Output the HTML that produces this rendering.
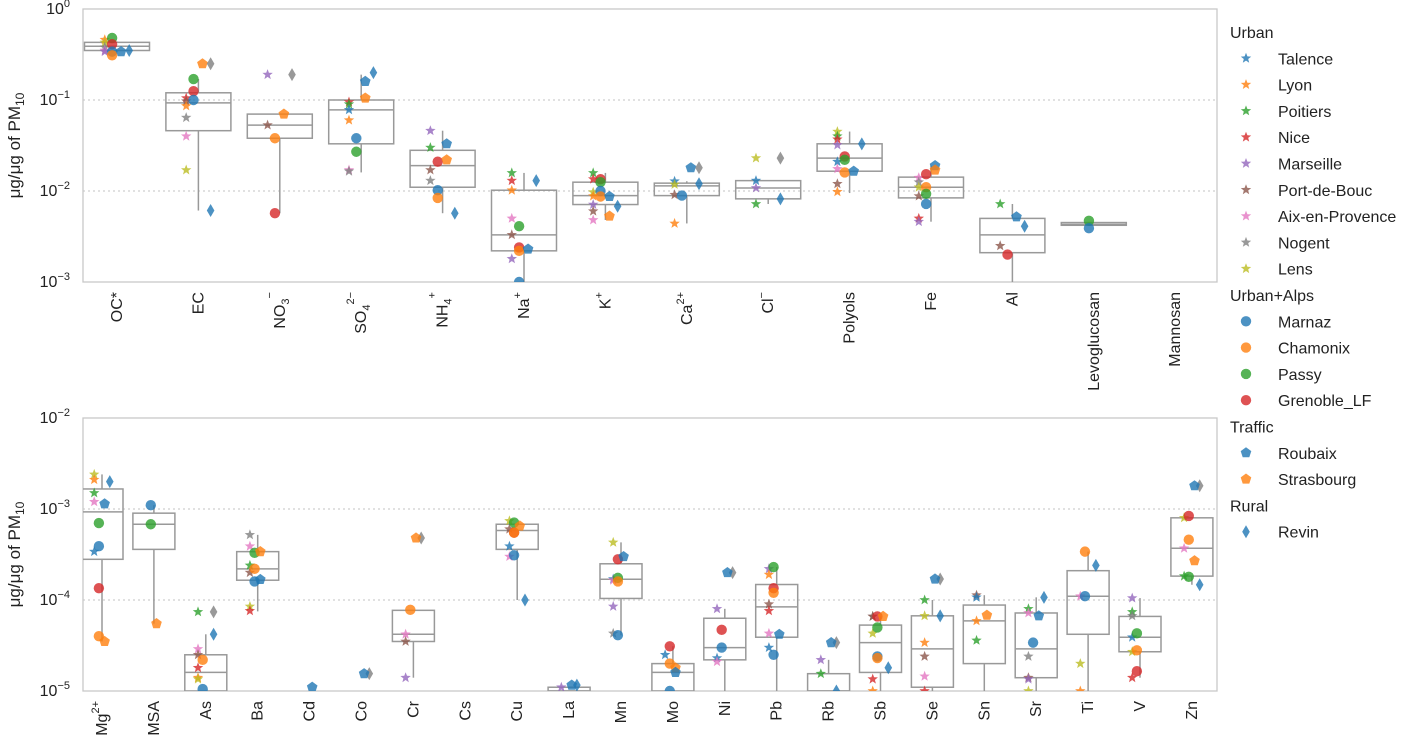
<!DOCTYPE html>
<html><head><meta charset="utf-8"><style>
html,body{margin:0;padding:0;background:#fff;}
svg{display:block;font-family:"Liberation Sans","DejaVu Sans",sans-serif;}
</style></head><body>
<svg id="chart" width="1412" height="743" xmlns="http://www.w3.org/2000/svg"></svg>
<script>
// ---------- DATA ----------
const sites = ["Talence","Lyon","Poitiers","Nice","Marseille","Port-de-Bouc","Aix-en-Provence","Nogent","Lens","Marnaz","Chamonix","Passy","Grenoble_LF","Roubaix","Strasbourg","Revin","Other"];
const siteColors = ["#1f77b4","#ff7f0e","#2ca02c","#d62728","#9467bd","#8c564b","#e377c2","#7f7f7f","#bcbd22","#1f77b4","#ff7f0e","#2ca02c","#d62728","#1f77b4","#ff7f0e","#1f77b4","#7f7f7f"];
const siteMarkers = ["star","star","star","star","star","star","star","star","star","circle","circle","circle","circle","pent","pent","diamond","diamond"];
const legendGroups = [["Urban",[0,1,2,3,4,5,6,7,8]],["Urban+Alps",[9,10,11,12]],["Traffic",[13,14]],["Rural",[15]]];

const topCategories = ["OC*","EC","NO3-","SO42-","NH4+","Na+","K+","Ca2+","Cl-","Polyols","Fe","Al","Levoglucosan","Mannosan"];
const topBoxes = [
 [0.34,0.35,0.39,0.43,0.44],[0.0061,0.046,0.093,0.12,0.17],[0.0057,0.038,0.053,0.07,0.07],[0.016,0.033,0.078,0.1,0.19],
 [0.0057,0.011,0.019,0.028,0.046],[0.001,0.0022,0.0033,0.0102,0.0158],[0.0048,0.0071,0.0089,0.0125,0.0158],[0.0044,0.0089,0.0114,0.0122,0.0128],
 [0.0072,0.0082,0.0108,0.013,0.013],[0.0095,0.0165,0.023,0.033,0.045],[0.0046,0.0084,0.011,0.0142,0.019],[0.001,0.0021,0.0033,0.005,0.0072],
 [0.0042,0.0042,0.0043,0.0045,0.0045],null];
const topPoints = [
 [[1,0.46],[8,0.43],[7,0.38],[6,0.35],[4,0.34],[11,0.48],[12,0.41],[9,0.34],[10,0.31],[13,0.34],[15,0.35]],
 [[3,0.105],[5,0.097],[1,0.086],[7,0.064],[6,0.04],[8,0.017],[11,0.17],[12,0.125],[9,0.1],[14,0.25],[16,0.25],[15,0.0061]],
 [[4,0.19],[16,0.19],[5,0.053],[14,0.07],[10,0.038],[12,0.0057]],
 [[3,0.095],[2,0.09],[0,0.078],[1,0.06],[6,0.017],[7,0.0165],[9,0.038],[11,0.027],[13,0.16],[14,0.105],[15,0.2]],
 [[4,0.046],[2,0.03],[5,0.017],[7,0.013],[12,0.021],[9,0.0102],[10,0.0084],[13,0.033],[14,0.022],[15,0.0057]],
 [[2,0.0158],[3,0.013],[1,0.0102],[6,0.005],[5,0.0033],[4,0.0018],[11,0.0041],[12,0.0024],[10,0.0022],[13,0.0023],[9,0.001],[15,0.013]],
 [[2,0.0158],[3,0.0135],[8,0.0097],[1,0.0088],[4,0.0071],[5,0.006],[6,0.0048],[12,0.0135],[11,0.0125],[9,0.01],[10,0.0087],[13,0.0087],[14,0.0053],[15,0.0068]],
 [[0,0.0128],[8,0.0118],[5,0.0091],[1,0.0044],[9,0.0089],[13,0.018],[16,0.018],[15,0.012]],
 [[8,0.023],[16,0.023],[0,0.013],[4,0.0108],[2,0.0072],[15,0.0082]],
 [[8,0.045],[2,0.04],[3,0.037],[4,0.032],[0,0.021],[6,0.0175],[5,0.012],[1,0.0098],[12,0.024],[11,0.022],[10,0.016],[13,0.0165],[15,0.033]],
 [[6,0.014],[7,0.0125],[8,0.011],[5,0.0088],[3,0.005],[4,0.0046],[12,0.0153],[10,0.011],[11,0.0093],[9,0.0072],[13,0.019],[14,0.017]],
 [[2,0.0072],[5,0.0025],[12,0.002],[13,0.0052],[15,0.0041]],
 [[11,0.0047],[9,0.0039]],
 []];

const botCategories = ["Mg2+","MSA","As","Ba","Cd","Co","Cr","Cs","Cu","La","Mn","Mo","Ni","Pb","Rb","Sb","Se","Sn","Sr","Ti","V","Zn"];
const botBoxes = [
 [3.5e-5,0.00028,0.00093,0.00166,0.0024],[5.5e-5,0.00036,0.00068,0.0009,0.0011],[1e-5,1e-5,1.6e-5,2.5e-5,4.2e-5],[7.5e-5,0.000165,0.00022,0.00034,0.00052],
 null,null,[1.4e-5,3.5e-5,4.2e-5,7.7e-5,7.7e-5],null,[0.0001,0.00036,0.00058,0.00068,0.00068],[1e-5,1e-5,1e-5,1.1e-5,1.1e-5],
 [4.1e-5,0.000104,0.000169,0.00025,0.00043],[1e-5,1e-5,1.6e-5,2e-5,3.1e-5],[1e-5,2.2e-5,3e-5,6.3e-5,8e-5],[1e-5,3.9e-5,8.4e-5,0.000148,0.00023],
 [1e-5,1e-5,1e-5,1.55e-5,2.2e-5],[1e-5,1.6e-5,3.4e-5,5.3e-5,6.6e-5],[1e-5,1.1e-5,2.9e-5,6.7e-5,0.0001],[1e-5,2e-5,5.9e-5,8.8e-5,0.000113],
 [1e-5,1.4e-5,2.9e-5,7.2e-5,0.000107],[1e-5,4.2e-5,0.00011,0.00021,0.00034],[1.4e-5,2.7e-5,3.9e-5,6.6e-5,0.000105],[0.000147,0.000183,0.00037,0.0008,0.0008]];
const botPoints = [
 [[8,0.0024],[1,0.0021],[2,0.0015],[6,0.0012],[0,0.00034],[11,0.0007],[9,0.00039],[12,0.000135],[10,0.00004],[13,0.00114],[14,0.000035],[15,0.002]],
 [[9,0.0011],[11,0.00068],[14,0.000055]],
 [[2,7.4e-5],[16,7.4e-5],[6,2.9e-5],[5,2.5e-5],[3,1.8e-5],[1,1.4e-5],[8,1.35e-5],[10,2.2e-5],[9,1.05e-5],[15,4.2e-5]],
 [[7,0.00052],[6,0.00039],[2,0.00024],[5,0.0002],[8,8.5e-5],[3,7.6e-5],[11,0.00033],[10,0.00022],[9,0.00016],[14,0.00034],[13,0.000168]],
 [[13,1.1e-5]],
 [[16,1.55e-5],[13,1.55e-5]],
 [[6,4.2e-5],[5,3.5e-5],[4,1.4e-5],[10,7.8e-5],[16,0.00048],[14,0.00048]],
 [],
 [[8,0.00074],[5,0.0006],[0,0.00039],[6,0.0003],[11,0.00071],[12,0.00055],[10,0.00055],[9,0.00031],[14,0.00065],[15,0.0001]],
 [[4,1.1e-5],[13,1.16e-5],[15,1.16e-5]],
 [[8,0.00043],[0,0.00017],[6,0.000165],[4,8.5e-5],[7,4.3e-5],[12,0.00028],[11,0.000175],[10,0.00016],[9,4.1e-5],[13,0.0003]],
 [[0,2.5e-5],[12,3.1e-5],[10,2e-5],[9,1e-5],[14,1.8e-5],[13,1.6e-5]],
 [[4,8e-5],[0,2.3e-5],[6,2.1e-5],[12,4.7e-5],[9,3e-5],[16,0.0002],[13,0.0002]],
 [[4,0.00022],[1,0.00019],[5,9e-5],[3,7.6e-5],[6,4.3e-5],[0,3e-5],[11,0.00023],[12,0.000135],[10,0.00012],[9,2.5e-5],[13,4.2e-5]],
 [[4,2.2e-5],[2,1.55e-5],[16,3.4e-5],[13,3.4e-5],[15,1e-5]],
 [[7,6.6e-5],[5,6.6e-5],[8,4.3e-5],[3,1.35e-5],[1,1e-5],[12,6.6e-5],[11,5e-5],[9,2.4e-5],[10,2.3e-5],[14,6.6e-5],[15,1.8e-5]],
 [[2,0.0001],[8,6.7e-5],[1,3.4e-5],[5,2.4e-5],[6,1.45e-5],[3,1e-5],[16,0.00017],[13,0.00017],[15,6.7e-5]],
 [[5,0.000113],[0,0.000107],[1,5.9e-5],[2,3.6e-5],[14,6.8e-5]],
 [[2,8e-5],[6,7.2e-5],[7,2.4e-5],[5,1.4e-5],[4,1.35e-5],[8,1e-5],[9,3.4e-5],[13,6.7e-5],[15,0.000107]],
 [[6,0.00011],[8,2e-5],[1,1e-5],[10,0.00034],[9,0.00011],[15,0.00024]],
 [[4,0.000105],[2,7.4e-5],[7,6.7e-5],[0,3.9e-5],[8,2.7e-5],[3,1.4e-5],[11,4.3e-5],[10,2.8e-5],[12,1.65e-5]],
 [[8,0.0008],[6,0.00037],[2,0.000183],[12,0.00084],[10,0.00046],[11,0.00018],[14,0.00027],[16,0.0018],[13,0.0018],[15,0.000147]]];

// ---------- RENDER ----------
const NS="http://www.w3.org/2000/svg";
const svg=document.getElementById('chart');
function el(tag,attrs,parent){const e=document.createElementNS(NS,tag);for(const k in attrs)e.setAttribute(k,attrs[k]);(parent||svg).appendChild(e);return e;}

const panels=[
 {name:'top',cats:topCategories,boxes:topBoxes,pts:topPoints,top:9,bot:282,dmax:0,dmin:-3,x0:117,step:81.4,boxW:65,tickExp:[0,-1,-2,-3]},
 {name:'bottom',cats:botCategories,boxes:botBoxes,pts:botPoints,top:418,bot:691,dmax:-2,dmin:-5,x0:102,step:51.9,boxW:42,tickExp:[-2,-3,-4,-5]}
];
const L=83,R=1217;
const offs={star:-0.15,circle:-0.06,pent:0.05,diamond:0.15};

function labelSpans(t,cat){
  const map={"NO3-":["NO","3","−"],"SO42-":["SO","4","2−"],"NH4+":["NH","4","+"],"Na+":["Na","","+"],"K+":["K","","+"],"Ca2+":["Ca","","2+"],"Cl-":["Cl","","−"],"Mg2+":["Mg","","2+"]};
  const m=map[cat];
  if(!m){t.textContent=cat;return;}
  el('tspan',{},t).textContent=m[0];
  if(m[1]){const s=el('tspan',{'baseline-shift':'-4','font-size':'11'},t);s.textContent=m[1];}
  const p=el('tspan',{'baseline-shift':m[1]?'12':'8','font-size':'11'},t);p.textContent=m[2];
}

function marker(g,type,x,y,color){
  let m;
  if(type==='circle') m=el('circle',{cx:x,cy:y,r:5.2},g);
  else if(type==='star'){let p=[];for(let i=0;i<10;i++){const r=i%2?2.3:5.5;const a=-Math.PI/2+i*Math.PI/5;p.push((x+r*Math.cos(a)).toFixed(1)+','+(y+r*Math.sin(a)).toFixed(1));}m=el('polygon',{points:p.join(' ')},g);}
  else if(type==='pent'){let p=[];for(let i=0;i<5;i++){const a=-Math.PI/2+i*2*Math.PI/5;p.push((x+5.6*Math.cos(a)).toFixed(1)+','+(y+5.6*Math.sin(a)).toFixed(1));}m=el('polygon',{points:p.join(' ')},g);}
  else m=el('polygon',{points:`${x},${y-6.5} ${x+3.8},${y} ${x},${y+6.5} ${x-3.8},${y}`},g);
  m.setAttribute('fill',color);m.setAttribute('fill-opacity','0.8');
  return m;
}

panels.forEach(P=>{
  const ys=v=>{const lv=Math.log10(v);return P.top+(P.dmax-lv)/(P.dmax-P.dmin)*(P.bot-P.top);};
  const xs=i=>P.x0+i*P.step;
  const g=el('g',{});
  
  const clip=el('clipPath',{id:'clip-'+P.name},g);el('rect',{x:L,y:P.top,width:R-L,height:P.bot-P.top},clip);
  // grid
  P.tickExp.forEach(e=>{
    const y=ys(Math.pow(10,e));
    if(y>P.top+1&&y<P.bot-1){const gl=el('line',{x1:L,x2:R,y1:y,y2:y,stroke:'#cfcfcf','stroke-width':1.3,'stroke-dasharray':'2,3'},g);}
    const t=el('text',{x:70,y:y+5,'text-anchor':'end','font-size':'16',fill:'#222'},g);
    
    el('tspan',{},t).textContent='10';
    const s=el('tspan',{'baseline-shift':'7','font-size':'11'},t);s.textContent='−'+(-e)+'';
    if(e===0)s.textContent='0';
  });
  // frame
  const fr=el('rect',{x:L,y:P.top,width:R-L,height:P.bot-P.top,fill:'none',stroke:'#c8c8c8','stroke-width':1.3},g);
  
  // y title
  const yt=el('text',{transform:`translate(20,${(P.top+P.bot)/2}) rotate(-90)`,'text-anchor':'middle','font-size':'17',fill:'#222'},g);
  
  el('tspan',{},yt).textContent='μg/μg of PM';
  const ysub=el('tspan',{'baseline-shift':'-4','font-size':'12'},yt);ysub.textContent='10';
  const cg=el('g',{'clip-path':`url(#clip-${P.name})`},g);
  P.cats.forEach((c,i)=>{
    const cx=xs(i);
    const b=P.boxes[i];
    if(b){
      const bg=el('g',{stroke:'#999','stroke-width':1.5,fill:'none'},cg);
      
      el('line',{x1:cx,x2:cx,y1:ys(b[0]),y2:ys(b[1])},bg);
      el('line',{x1:cx,x2:cx,y1:ys(b[3]),y2:ys(b[4])},bg);
      el('rect',{x:cx-P.boxW/2,y:ys(b[3]),width:P.boxW,height:Math.max(ys(b[1])-ys(b[3]),1)},bg);
      el('line',{x1:cx-P.boxW/2,x2:cx+P.boxW/2,y1:ys(b[2]),y2:ys(b[2])},bg);
    }
    P.pts[i].forEach(p=>{
      const s=p[0],type=siteMarkers[s];
      const m=marker(cg,type,cx+offs[type]*P.step,ys(p[1]),siteColors[s]);
      
      
    });
    const t=el('text',{transform:`translate(${cx+5},${P.bot+10}) rotate(-90)`,'text-anchor':'end','font-size':'16',fill:'#222'},g);
    
    labelSpans(t,c);
  });
});

// legend
const lg=el('g',{});

let ly=32;
legendGroups.forEach(gr=>{
  const h=el('text',{x:1230,y:ly+6,'font-size':'16',fill:'#222'},lg);
  
  h.textContent=gr[0];ly+=26.3;
  gr[1].forEach(s=>{
    const m=marker(lg,siteMarkers[s],1246,ly,siteColors[s]);
    
    const t=el('text',{x:1278,y:ly+6,'font-size':'16',fill:'#222'},lg);
    
    t.textContent=sites[s];ly+=26.3;
  });
});
</script>
</body></html>
